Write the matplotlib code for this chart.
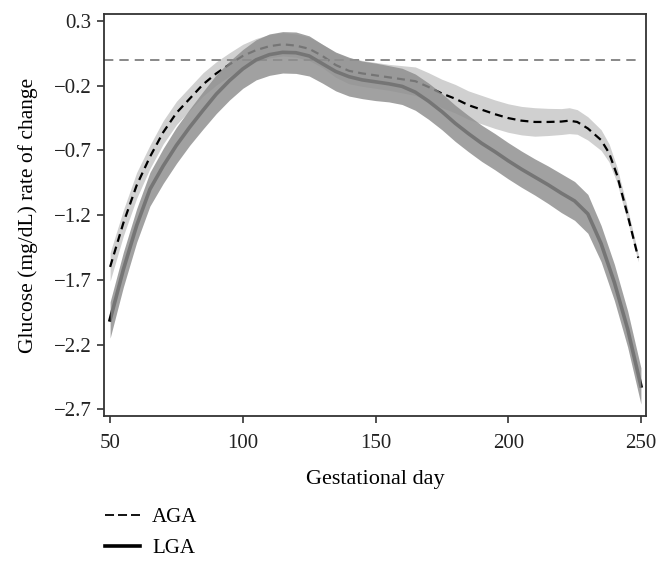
import numpy as np
import matplotlib
matplotlib.use("Agg")
import matplotlib.pyplot as plt
from matplotlib.lines import Line2D

plt.rcParams['font.family'] = ['Liberation Serif', 'DejaVu Serif']

# AGA: gestational day, rate of change, half width of the band
aga_day = [50, 55, 60, 65, 70, 75, 80, 85, 90, 95, 100, 105, 110, 115, 120,
           125, 130, 135, 140, 145, 150, 155, 160, 165, 170, 175, 180, 185,
           190, 195, 200, 205, 210, 215, 220, 223, 226, 230, 235, 238, 241,
           245, 249]
aga_rate = [-1.60, -1.26, -0.97, -0.75, -0.56, -0.41, -0.30, -0.19, -0.105,
            -0.035, 0.03, 0.075, 0.105, 0.12, 0.11, 0.085, 0.03, -0.04,
            -0.085, -0.105, -0.12, -0.135, -0.15, -0.165, -0.21, -0.26,
            -0.30, -0.35, -0.385, -0.42, -0.45, -0.47, -0.48, -0.48, -0.477,
            -0.47, -0.48, -0.53, -0.62, -0.72, -0.89, -1.20, -1.53]
aga_half = [0.11, 0.10, 0.10, 0.09, 0.09, 0.09, 0.09, 0.09, 0.09, 0.09, 0.09,
            0.09, 0.09, 0.09, 0.09, 0.09, 0.09, 0.095, 0.10, 0.10, 0.10,
            0.10, 0.105, 0.11, 0.11, 0.11, 0.11, 0.11, 0.11, 0.11, 0.11,
            0.11, 0.11, 0.105, 0.10, 0.10, 0.095, 0.09, 0.08, 0.07, 0.06,
            0.05, 0.03]

# LGA
lga_day = [50, 55, 60, 65, 70, 75, 80, 85, 90, 95, 100, 105, 110, 115, 120,
           125, 130, 135, 140, 145, 150, 155, 160, 165, 170, 175, 180, 185,
           190, 195, 200, 205, 210, 215, 220, 225, 230, 235, 240, 245, 250]
lga_rate = [-2.01, -1.62, -1.28, -1.00, -0.82, -0.66, -0.52, -0.39, -0.265,
            -0.16, -0.07, 0.0, 0.04, 0.058, 0.055, 0.03, -0.03, -0.09, -0.13,
            -0.155, -0.17, -0.185, -0.205, -0.25, -0.32, -0.40, -0.49, -0.57,
            -0.645, -0.71, -0.78, -0.845, -0.905, -0.965, -1.03, -1.09, -1.19,
            -1.42, -1.72, -2.08, -2.52]
lga_half = [0.14, 0.135, 0.13, 0.13, 0.135, 0.14, 0.14, 0.145, 0.15, 0.15,
            0.15, 0.155, 0.16, 0.16, 0.16, 0.155, 0.15, 0.15, 0.15, 0.145,
            0.145, 0.14, 0.14, 0.14, 0.14, 0.14, 0.14, 0.14, 0.14, 0.14,
            0.14, 0.14, 0.14, 0.145, 0.15, 0.15, 0.15, 0.14, 0.14, 0.14, 0.14]

x_ticks = [50, 100, 150, 200, 250]
y_ticks = [0.3, -0.2, -0.7, -1.2, -1.7, -2.2, -2.7]

aga_day = np.array(aga_day)
aga_rate = np.array(aga_rate)
aga_half = np.array(aga_half)
lga_day = np.array(lga_day)
lga_rate = np.array(lga_rate)
lga_half = np.array(lga_half)

fig = plt.figure(figsize=(6.68, 5.65), dpi=100)
ax = fig.add_axes([0.1557, 0.2637, 0.8113, 0.7115])
ax.set_xlim(47.7, 251.9)
ax.set_ylim(-2.752, 0.354)

# AGA band and line
ax.fill_between(aga_day, aga_rate - aga_half, aga_rate + aga_half,
                color='#d0d0d0', lw=0, zorder=1)
ax.plot(aga_day, aga_rate, color='black', lw=1.6, dashes=(3.6, 2.3), zorder=2)

# reference line at zero
ax.hlines(0, ax.get_xlim()[0], lga_day.max(), colors='#888888', lw=1.4,
          linestyles=(0, (4.8, 3.1)), zorder=2)

# LGA line under a semi-opaque band
ax.plot(lga_day, lga_rate, color='black', lw=2.6, zorder=3)
ax.fill_between(lga_day, lga_rate - lga_half, lga_rate + lga_half,
                color='#8e8e8e', alpha=0.83, lw=0, zorder=4)

ax.set_xticks(x_ticks)
ax.set_yticks(y_ticks)
ax.set_yticklabels(['0.3', '−0.2', '−0.7', '−1.2', '−1.7', '−2.2', '−2.7'])
ax.tick_params(direction='out', length=5, width=1.1, labelsize=15,
               colors='#222222')
ax.tick_params(axis='x', pad=8)
ax.tick_params(axis='y', pad=4)
for s in ax.spines.values():
    s.set_linewidth(1.3)
    s.set_color('#333333')

ax.set_xlabel('Gestational day', fontsize=16, labelpad=12)
ax.set_ylabel('Glucose (mg/dL) rate of change', fontsize=15.5, labelpad=11)

handles = [Line2D([], [], color='black', lw=1.3, dashes=(5, 2.2)),
           Line2D([], [], color='black', lw=2.6)]
fig.legend(handles, ['AGA', 'LGA'], loc='upper left',
           bbox_to_anchor=(0.145, 0.117), frameon=False, fontsize=15,
           handlelength=1.65, handletextpad=0.6, labelspacing=0.55,
           borderaxespad=0)

fig.savefig('out.png', dpi=100)
